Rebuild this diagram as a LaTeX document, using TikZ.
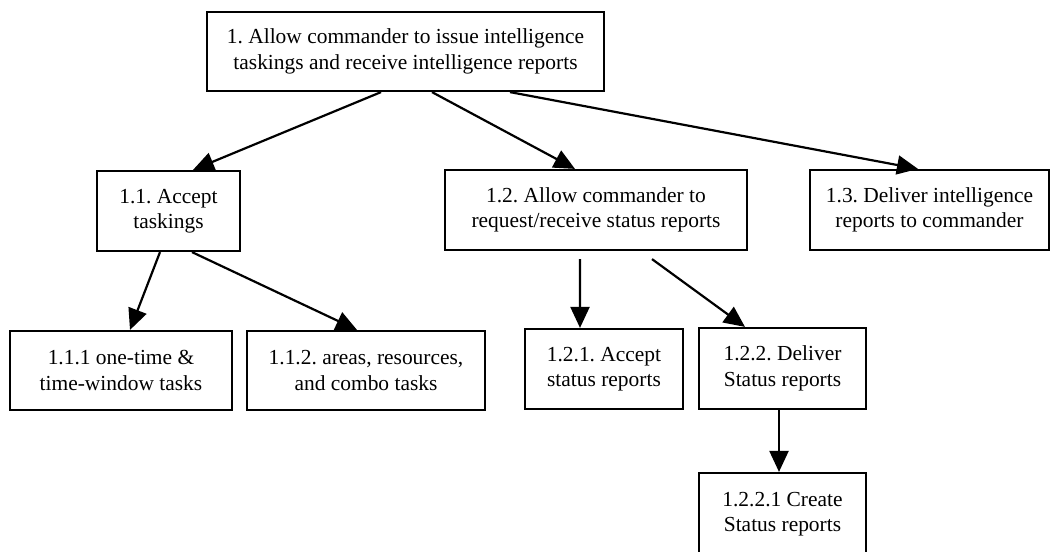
\documentclass[tikz,border=0pt]{standalone}
\usepackage{fontspec}
\setmainfont{Liberation Serif}
\usetikzlibrary{arrows.meta}
\frenchspacing

\begin{document}
\begin{tikzpicture}[box/.style={rectangle,draw=black,line width=1.25pt,inner sep=0pt,align=center,
    minimum height=1.6cm,font=\fontsize{12.2}{14.5}\selectfont},
  >={Triangle[length=0.42cm,width=0.38cm]},line width=1.25pt]
  \useasboundingbox (0,0) rectangle (21.04,-11.02);
  \node[box,minimum width=7.94cm,minimum height=1.58cm] (n1) at (8.11,-1.03){1. Allow commander to issue intelligence\\ taskings and receive intelligence reports};
  \node[box,minimum width=2.86cm] (n11) at (3.37,-4.22){1.1. Accept\\ taskings};
  \node[box,minimum width=6.04cm] (n12) at (11.92,-4.20){1.2. Allow commander to\\ request/receive status reports};
  \node[box,minimum width=4.78cm] (n13) at (18.59,-4.20){1.3. Deliver intelligence\\ reports to commander};
     \draw[->] ([xshift=-0.49cm]n1.south) to ([xshift=0.49cm]n11.north);
     \draw[->] ([xshift=0.53cm]n1.south) to ([xshift=-0.42cm]n12.north);
     \draw[->] ([xshift=2.09cm]n1.south) to ([xshift=-0.23cm]n13.north);
  \node[box,minimum width=4.44cm,minimum height=1.58cm] (n111) at (2.42,-7.41){1.1.1 one-time \&\\ time-window tasks};
  \node[box,minimum width=4.76cm,minimum height=1.58cm] (n112) at (7.32,-7.41){1.1.2. areas, resources,\\ and combo tasks};
  \node[box,minimum width=3.16cm] (n121) at (12.08,-7.38){1.2.1. Accept\\ status reports};
  \node[box,minimum width=3.34cm,minimum height=1.62cm] (n122) at (15.65,-7.37){1.2.2. Deliver\\ Status reports};
  \node[box,minimum width=3.34cm,minimum height=1.64cm] (n1221) at (15.65,-10.28){1.2.2.1 Create\\ Status reports};
     \draw[->] ([xshift=-0.17cm]n11.south) to ([xshift=0.18cm]n111.north);
     \draw[->] ([xshift=0.47cm]n11.south) to ([xshift=-0.18cm]n112.north);
     \draw[->] ([xshift=-0.32cm,yshift=-0.16cm]n12.south) to ([xshift=-0.48cm]n121.north);
     \draw[->] ([xshift=1.12cm,yshift=-0.16cm]n12.south) to ([xshift=-0.75cm]n122.north);
     \draw[->] ([xshift=-0.07cm]n122.south) to ([xshift=-0.07cm]n1221.north);
\end{tikzpicture}
\end{document}
